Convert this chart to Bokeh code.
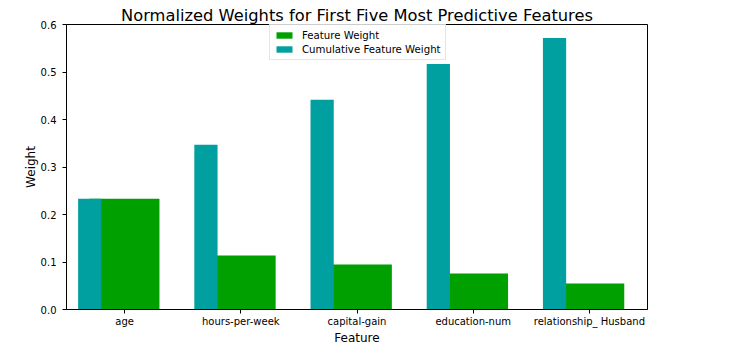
from bokeh.plotting import figure
from bokeh.models import Range1d, FixedTicker, Legend, LegendItem, ColumnDataSource
from bokeh.embed import file_html
from bokeh.resources import INLINE

features = ["age", "hours-per-week", "capital-gain", "education-num", "relationship_ Husband"]
feature_weight = [0.2333, 0.1135, 0.0946, 0.0757, 0.0546]
cumulative_weight = [0.2333, 0.3468, 0.4414, 0.5170, 0.5717]
y_ticks = [0.0, 0.1, 0.2, 0.3, 0.4, 0.5, 0.6]

pos = list(range(len(features)))
FONT = "DejaVu Sans"

p = figure(width=713, height=347, output_backend="svg", toolbar_location=None,
           x_range=Range1d(-0.5, 4.5), y_range=Range1d(0, 0.6),
           min_border_left=66, min_border_right=66, min_border_top=24, min_border_bottom=37)

p.title.text = "Normalized Weights for First Five Most Predictive Features"
p.title.align = "center"
p.title.text_font = FONT
p.title.text_font_size = "16.3px"
p.title.text_font_style = "normal"
p.title.text_color = "#000000"
p.title.standoff = 0
p.title.offset = 0

src = ColumnDataSource(dict(x=pos, fw=feature_weight, cw=cumulative_weight,
                            xc=[v - 0.3 for v in pos]))
r1 = p.vbar(x="x", top="fw", width=0.6, bottom=0, source=src, fill_color="#00A000", line_color=None)
r2 = p.vbar(x="xc", top="cw", width=0.2, bottom=0, source=src, fill_color="#00A0A0", line_color=None)

legend = Legend(items=[LegendItem(label="Feature Weight", renderers=[r1]),
                       LegendItem(label="Cumulative Feature Weight", renderers=[r2])],
                location=(203, 249), orientation="vertical")
legend.label_text_font = FONT
legend.label_text_font_size = "10.2px"
legend.label_text_color = "#000000"
legend.glyph_width = 20
legend.glyph_height = 8
legend.label_height = 12
legend.label_standoff = 8
legend.spacing = 2
legend.padding = 4
legend.margin = 0
legend.border_line_color = "#cccccc"
legend.background_fill_alpha = 0.8
p.add_layout(legend)

p.xgrid.visible = False
p.ygrid.visible = False
p.outline_line_color = "#000000"
p.outline_line_width = 1
p.outline_line_alpha = 1

p.xaxis.ticker = FixedTicker(ticks=pos)
p.xaxis.major_label_overrides = {i: f for i, f in zip(pos, features)}
p.yaxis.ticker = FixedTicker(ticks=y_ticks)
p.yaxis.major_label_overrides = {t: f"{t:.1f}" for t in y_ticks}

for ax in (p.xaxis[0], p.yaxis[0]):
    ax.axis_line_color = "#000000"
    ax.major_tick_line_color = "#000000"
    ax.major_tick_out = 4
    ax.major_tick_in = 0
    ax.minor_tick_line_color = None
    ax.major_label_text_font = FONT
    ax.major_label_text_font_size = "10px"
    ax.major_label_text_color = "#000000"
    ax.axis_label_text_font = FONT
    ax.axis_label_text_font_size = "12px"
    ax.axis_label_text_font_style = "normal"
    ax.axis_label_text_color = "#000000"

p.xaxis.axis_label = "Feature"
p.yaxis.axis_label = "Weight"
p.xaxis.major_label_standoff = 2
p.xaxis.axis_label_standoff = 1
p.yaxis.major_label_standoff = 6
p.yaxis.axis_label_standoff = 0

open("out.html", "w").write(file_html(p, INLINE))
